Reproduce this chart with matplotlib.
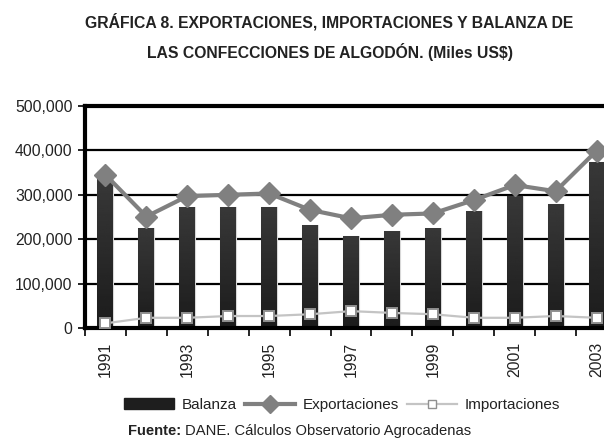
import matplotlib
matplotlib.use("Agg")
import matplotlib.pyplot as plt
import numpy as np
from matplotlib.lines import Line2D
from matplotlib.patches import Patch
from matplotlib.ticker import FuncFormatter, FixedLocator

plt.rcParams["font.family"] = ["Liberation Sans Narrow", "Liberation Sans", "DejaVu Sans"]

years = list(range(1991, 2004))
balanza = [336000, 226000, 272000, 272000, 273000, 233000, 207000, 218000, 226000,
           263000, 298000, 279000, 374000]
exportaciones = [345000, 251000, 297000, 300000, 303000, 266000, 247000, 255000, 258000,
                 288000, 322000, 308000, 399000]
importaciones = [10500, 23000, 23000, 27000, 27000, 31000, 38000, 34000, 31000,
                 23000, 23000, 27000, 23000]
year_labels = [str(y) if y % 2 else "" for y in years]

W, H = 604, 441
fig = plt.figure(figsize=(W / 100, H / 100), dpi=100)
# plot area runs past the right edge, as in the source
ax = fig.add_axes([85 / W, 1 - 328 / H, 532 / W, 222 / H])

x = np.arange(len(years))
ax.set_axisbelow(True)
ax.yaxis.grid(True, color="black", lw=1.6)

bars = ax.bar(x, balanza, width=0.39, color="#262626", edgecolor="#d8d8d8", lw=0.8, zorder=2)
grad = np.linspace(0.11, 0.22, 64).reshape(-1, 1)
for b in bars:
    x0, w, h = b.get_x(), b.get_width(), b.get_height()
    im = ax.imshow(grad, extent=(x0, x0 + w, 0, h), origin="lower", aspect="auto",
                   cmap="gray", vmin=0, vmax=1, zorder=2.5)
    im.set_clip_path(b)

ax.plot(x, exportaciones, color="#808080", lw=3, marker="D", ms=11,
        mfc="#808080", mec="#808080", zorder=4)
ax.plot(x, importaciones, color="#c4c4c4", lw=1.6, marker="s", ms=7,
        mfc="white", mec="#909090", mew=1.4, zorder=4)

ax.set_xlim(-0.5, len(years) - 0.5)
ax.set_ylim(0, 500000)
ax.set_yticks(np.arange(0, 500001, 100000))
ax.yaxis.set_major_formatter(FuncFormatter(lambda v, p: f"{v:,.0f}"))
ax.tick_params(axis="y", length=5, width=1.2, labelsize=11.3, pad=4, labelcolor="#222222")

ax.set_xticks(x)
ax.set_xticklabels(year_labels, rotation=90, fontsize=11.3, color="#222222")
ax.xaxis.set_minor_locator(FixedLocator(np.arange(-0.5, len(years), 1.0)))
ax.tick_params(axis="x", which="major", length=0, pad=10)
ax.tick_params(axis="x", which="minor", length=6, width=1.2)

for s in ["left", "bottom", "top"]:
    ax.spines[s].set_linewidth(3)
ax.spines["right"].set_visible(False)

fig.text(329 / W, 1 - 22 / H, "GRÁFICA 8. EXPORTACIONES, IMPORTACIONES Y BALANZA DE",
         ha="center", va="center", fontsize=11.3, fontweight="bold", color="#222222")
fig.text(330 / W, 1 - 52 / H, "LAS CONFECCIONES DE ALGODÓN. (Miles US$)",
         ha="center", va="center", fontsize=11.3, fontweight="bold", color="#222222")

handles = [
    Patch(facecolor="#1e1e1e", edgecolor="#1e1e1e"),
    Line2D([], [], color="#808080", lw=3, marker="D", ms=9),
    Line2D([], [], color="#c4c4c4", lw=1.6, marker="s", ms=6, mfc="white", mec="#909090"),
]
fig.legend(handles, ["Balanza", "Exportaciones", "Importaciones"], ncol=3,
           loc="center", bbox_to_anchor=(342 / W, 1 - 405 / H), frameon=False,
           fontsize=11, handlelength=3.3, columnspacing=0.5, handletextpad=0.5,
           labelcolor="#222222")

src = fig.text(128 / W, 1 - 431 / H, "Fuente:", ha="left", va="center", fontsize=10.6,
               fontweight="bold", color="#222222")
fig.canvas.draw()
src_end = src.get_window_extent().x1
fig.text((src_end + 4) / W, 1 - 431 / H, "DANE. Cálculos Observatorio Agrocadenas",
         ha="left", va="center", fontsize=10.6, color="#222222")

fig.savefig("out.png", dpi=100)
